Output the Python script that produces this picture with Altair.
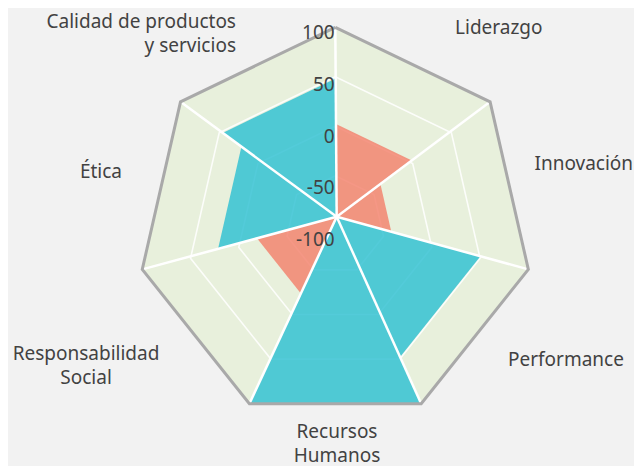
import math
import altair as alt
import pandas as pd

# ---------------- data ----------------
categories = ["Liderazgo", "Innovación", "Performance", "Recursos Humanos",
              "Responsabilidad Social", "Ética", "Calidad de productos y servicios"]
values = [-2, -43, 50, 100, -18, 22, 46]
label_text = ["Liderazgo", "Innovación", "Performance", "Recursos\nHumanos",
              "Responsabilidad\nSocial", "Ética", "Calidad de productos\ny servicios"]
tick_values = [100, 50, 0, -50, -100]
grid_levels = [0.25, 0.5, 0.75]
VMIN, VMAX = -100, 100

# ---------------- layout ----------------
N = len(categories)
S = 198.0                      # px per unit radius
ORIGIN = [327.3, 217.3]        # ring centre in svg px
P = (0.007, 0.043)             # where the spokes meet (unit coords)
LABEL_R = 1.12
# per-label (align, dx px, dy px) nudges
label_layout = [("left", 23.5, 2.5), ("left", -17.0, -12), ("left", -0.7, -3.6),
                ("center", 1.7, -15.5), ("center", -75.9, -9.1), ("right", 2.9, -4),
                ("right", -3.1, -3.5)]

CYAN = "#2dbfd2"
SALMON = "#f3806b"
GREEN = "#e8f0dc"
BORDER = "#a9a9a9"
TEXT = "#424242"
FONT = "Noto Sans"
FS = 19

PROJ = dict(type="identity", scale=S, translate=ORIGIN, reflectY=True)


def vertex(k, r=1.0):
    a = 2 * math.pi * k / N
    return [r * math.sin(a), r * math.cos(a)]


def on_spoke(k, t):
    vx, vy = vertex(k)
    return [P[0] + t * (vx - P[0]), P[1] + t * (vy - P[1])]


def feat(gtype, coords, **props):
    return {"type": "Feature", "geometry": {"type": gtype, "coordinates": coords},
            "properties": props}


def frac(v):
    return (v - VMIN) / (VMAX - VMIN)


outer = [vertex(k) for k in range(N)] + [vertex(0)]
bg_feats = [feat("Polygon", [outer])]
grid_feats = [feat("LineString", [vertex(k, g) for k in range(N)] + [vertex(0, g)])
              for g in grid_levels]
spoke_feats = [feat("LineString", [list(P), vertex(k)]) for k in range(N)]
border_feats = [feat("LineString", outer)]
wedge_feats = []
for i, (c, v) in enumerate(zip(categories, values)):
    t = frac(v)
    ring = [list(P), on_spoke(i, t), on_spoke(i + 1, t), list(P)]
    wedge_feats.append(feat("Polygon", [ring], name=c, value=v,
                            sign="pos" if v > 0 else "neg"))

rows = []
for i, txt in enumerate(label_text):
    a = 2 * math.pi * (i + 0.5) / N
    align, dx, dy = label_layout[i]
    rows.append({"label": txt, "align": align,
                 "lon": LABEL_R * math.sin(a) + dx / S,
                 "lat": LABEL_R * math.cos(a) - dy / S})
labels_df = pd.DataFrame(rows)

tick_df = pd.DataFrame({
    "tick": [str(v) for v in tick_values],
    "lon": [P[0] - 2.0 / S] * len(tick_values),
    "lat": [P[1] - 0.1176 + 1.0455 * frac(v) for v in tick_values],
})

bg = alt.Chart(alt.Data(values=bg_feats)).mark_geoshape(
    fill=GREEN, strokeOpacity=0).project(**PROJ)
grid = alt.Chart(alt.Data(values=grid_feats)).mark_geoshape(
    filled=False, stroke="white", strokeWidth=1.6, strokeOpacity=0.85).project(**PROJ)
wedges = alt.Chart(alt.Data(values=wedge_feats)).mark_geoshape(
    strokeOpacity=0, fillOpacity=0.82).encode(
    fill=alt.Fill("properties.sign:N",
                  scale=alt.Scale(domain=["pos", "neg"], range=[CYAN, SALMON]),
                  legend=None)).project(**PROJ)
spokes = alt.Chart(alt.Data(values=spoke_feats)).mark_geoshape(
    filled=False, stroke="white", strokeWidth=2.5).project(**PROJ)
border = alt.Chart(alt.Data(values=border_feats)).mark_geoshape(
    filled=False, stroke=BORDER, strokeWidth=3, strokeJoin="miter").project(**PROJ)

text_layers = []
for al in ["left", "center", "right"]:
    sub = labels_df[labels_df["align"] == al]
    text_layers.append(
        alt.Chart(sub).mark_text(align=al, baseline="middle", fontSize=FS,
                                 font=FONT, color=TEXT, lineBreak="\n",
                                 lineHeight=24).encode(
            longitude="lon:Q", latitude="lat:Q", text="label:N").project(**PROJ))

ticks = alt.Chart(tick_df).mark_text(align="right", baseline="middle", fontSize=FS,
                                     font=FONT, color=TEXT).encode(
    longitude="lon:Q", latitude="lat:Q", text="tick:N").project(**PROJ)

chart = alt.layer(bg, grid, wedges, spokes, border, ticks, *text_layers).properties(
    width=626, height=458, autosize="none", padding=0, background="#f2f2f2"
).configure_view(stroke=None)

chart.save("out.html", embed_options={"renderer": "svg", "actions": False})
